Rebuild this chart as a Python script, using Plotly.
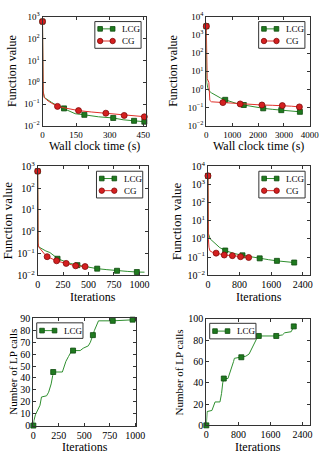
import plotly.graph_objects as go

W, H = 330, 461
FONT = "Liberation Serif"

# ------------------------------------------------------------------ data
# Panel 1: wall clock time (s) vs function value (problem 1)
p1_lcg_line_x = [0, 0.5, 3, 8, 20, 40, 65, 96, 125, 146, 187, 250, 316, 360, 409, 455, 462]
p1_lcg_line_y = [600, 2, 0.4, 0.2, 0.16, 0.12, 0.085, 0.063, 0.045, 0.036, 0.032, 0.026, 0.023, 0.019, 0.017, 0.0155, 0.0153]
p1_lcg_mark_x = [0, 96, 187, 316, 409, 455]
p1_lcg_mark_y = [600, 0.063, 0.032, 0.023, 0.017, 0.0155]
p1_cg_line_x = [0, 0.5, 3, 8, 20, 40, 67, 100, 130, 161, 220, 283, 320, 365, 410, 455, 462]
p1_cg_line_y = [600, 2, 0.35, 0.2, 0.15, 0.11, 0.078, 0.066, 0.057, 0.05, 0.043, 0.038, 0.034, 0.030, 0.028, 0.026, 0.026]
p1_cg_mark_x = [0, 67, 161, 283, 365, 455]
p1_cg_mark_y = [600, 0.078, 0.05, 0.038, 0.030, 0.026]

# Panel 2: wall clock time (s) vs function value (problem 2)
p2_lcg_line_x = [0, 3, 15, 50, 100, 200, 350, 550, 730, 1000, 1200, 1450, 1800, 2200, 2550, 2900, 3250, 3620]
p2_lcg_line_y = [3000, 10, 2.5, 1.3, 0.85, 0.65, 0.48, 0.34, 0.27, 0.2, 0.165, 0.14, 0.11, 0.092, 0.081, 0.073, 0.065, 0.059]
p2_lcg_mark_x = [0, 730, 1450, 2200, 2900, 3620]
p2_lcg_mark_y = [3000, 0.27, 0.14, 0.092, 0.073, 0.059]
p2_cg_line_x = [0, 3, 30, 97, 115, 135, 200, 400, 640, 1000, 1310, 1700, 2150, 2550, 2940, 3300, 3600]
p2_cg_line_y = [3000, 8, 4, 2.5, 0.6, 0.25, 0.21, 0.2, 0.19, 0.17, 0.16, 0.15, 0.14, 0.135, 0.13, 0.12, 0.11]
p2_cg_mark_x = [0, 640, 1310, 2150, 2940, 3600]
p2_cg_mark_y = [3000, 0.19, 0.16, 0.14, 0.13, 0.11]

# Panel 3: iterations vs function value (problem 1)
p3_lcg_line_x = [0, 1, 4, 10, 40, 80, 120, 150, 175, 195, 250, 320, 390, 480, 585, 680, 780, 880, 975, 1050]
p3_lcg_line_y = [600, 1.5, 0.3, 0.2, 0.16, 0.13, 0.11, 0.09, 0.07, 0.057, 0.045, 0.035, 0.029, 0.024, 0.020, 0.018, 0.016, 0.015, 0.014, 0.0138]
p3_lcg_mark_x = [0, 195, 390, 585, 780, 975]
p3_lcg_mark_y = [600, 0.057, 0.029, 0.020, 0.016, 0.014]
p3_cg_line_x = [0, 1, 4, 10, 40, 70, 93, 140, 186, 230, 280, 330, 373, 420, 466]
p3_cg_line_y = [600, 1.5, 0.3, 0.2, 0.13, 0.09, 0.071, 0.055, 0.046, 0.04, 0.035, 0.03, 0.027, 0.026, 0.025]
p3_cg_mark_x = [0, 93, 186, 280, 373, 466]
p3_cg_mark_y = [600, 0.071, 0.046, 0.035, 0.027, 0.025]

# Panel 4: iterations vs function value (problem 2)
p4_lcg_line_x = [0, 2, 10, 56, 178, 300, 436, 650, 873, 1100, 1309, 1530, 1745, 1960, 2182]
p4_lcg_line_y = [3000, 8, 2, 1.0, 0.55, 0.33, 0.23, 0.16, 0.125, 0.1, 0.085, 0.072, 0.062, 0.055, 0.05]
p4_lcg_mark_x = [0, 436, 873, 1309, 1745, 2182]
p4_lcg_mark_y = [3000, 0.23, 0.125, 0.085, 0.062, 0.05]
p4_cg_line_x = [0, 2, 10, 25, 50, 120, 206, 412, 618, 824, 1030]
p4_cg_line_y = [3000, 5, 1.0, 0.35, 0.22, 0.18, 0.165, 0.13, 0.12, 0.105, 0.095]
p4_cg_mark_x = [0, 206, 412, 618, 824, 1030]
p4_cg_mark_y = [3000, 0.165, 0.13, 0.12, 0.105, 0.095]

# Panel 5: iterations vs number of LP calls (problem 1)
p5_lcg_line_x = [0, 5, 20, 45, 65, 80, 130, 150, 175, 190, 195, 285, 300, 320, 345, 365, 390, 460, 490, 510, 540, 560, 575, 585, 600, 620, 640, 780, 975, 1010]
p5_lcg_line_y = [0, 4, 9, 13, 17, 24, 25, 28, 35, 42, 45, 45, 49, 54, 58, 61, 63, 63, 65, 66, 67, 70, 73, 76, 80, 84, 88, 88, 89, 89]
p5_lcg_mark_x = [0, 195, 390, 585, 780, 975]
p5_lcg_mark_y = [0, 45, 63, 76, 88, 89]

# Panel 6: iterations vs number of LP calls (problem 2)
p6_lcg_line_x = [0, 20, 140, 180, 218, 340, 380, 410, 436, 540, 580, 622, 680, 700, 873, 985, 1066, 1131, 1228, 1290, 1309, 1745, 1900, 1956, 2118, 2160, 2182]
p6_lcg_line_y = [0, 13, 14, 18, 22, 22, 30, 40, 44, 44, 48, 53, 60, 63, 64, 65, 67, 72, 78, 84, 84, 84, 85, 87, 88, 91, 93]
p6_lcg_mark_x = [0, 436, 873, 1309, 1745, 2182]
p6_lcg_mark_y = [0, 44, 64, 84, 84, 93]

# axis ticks / labels
log_tickvals_3 = [1e-2, 1e-1, 1e0, 1e1, 1e2, 1e3]
log_ticktext_3 = ["10<sup>−2</sup>", "10<sup>−1</sup>", "10<sup>0</sup>", "10<sup>1</sup>", "10<sup>2</sup>", "10<sup>3</sup>"]
log_tickvals_4 = [1e-2, 1e-1, 1e0, 1e1, 1e2, 1e3, 1e4]
log_ticktext_4 = log_ticktext_3 + ["10<sup>4</sup>"]
time_ticks_1 = [0, 150, 300, 450]
time_ticks_2 = [0, 1000, 2000, 3000, 4000]
iter_ticks_1 = [0, 250, 500, 750, 1000]
iter_ticks_2 = [0, 800, 1600, 2400]
lp_ticks_1 = list(range(0, 91, 10))
lp_ticks_2 = list(range(0, 101, 20))

# ------------------------------------------------------------------ style
G_LINE, G_FILL, G_EDGE = "#2f8f2f", "#1f7a1f", "#0d4a0d"
R_LINE, R_FILL, R_EDGE = "#e0302a", "#d42020", "#800a0a"
AX = "#333333"

# panel pixel boxes (left, right, top, bottom)
PANELS = {
    1: (41, 148.3, 10, 122.3),
    2: (211, 318.3, 10, 122.3),
    3: (36, 150, 164, 276),
    4: (212.7, 318.5, 164, 276),
    5: (31.5, 138.5, 320.5, 430.7),
    6: (211, 318.3, 321, 430.5),
}

fig = go.Figure()


def ax_name(i, kind):
    return kind if i == 1 else f"{kind}{i}"


def add_series(i, lx, ly, mx, my, lc, fc, ec, symbol):
    xa, ya = ax_name(i, "x"), ax_name(i, "y")
    fig.add_trace(go.Scatter(x=lx, y=ly, mode="lines", xaxis=xa, yaxis=ya,
                             line=dict(color=lc, width=1), showlegend=False, hoverinfo="skip"))
    fig.add_trace(go.Scatter(x=mx, y=my, mode="markers", xaxis=xa, yaxis=ya, cliponaxis=False,
                             marker=dict(symbol=symbol, size=5 if symbol == "square" else 6,
                                         color=fc, line=dict(color=ec, width=0.8)),
                             showlegend=False, hoverinfo="skip"))


add_series(1, p1_lcg_line_x, p1_lcg_line_y, p1_lcg_mark_x, p1_lcg_mark_y, G_LINE, G_FILL, G_EDGE, "square")
add_series(1, p1_cg_line_x, p1_cg_line_y, p1_cg_mark_x, p1_cg_mark_y, R_LINE, R_FILL, R_EDGE, "circle")
add_series(2, p2_lcg_line_x, p2_lcg_line_y, p2_lcg_mark_x, p2_lcg_mark_y, G_LINE, G_FILL, G_EDGE, "square")
add_series(2, p2_cg_line_x, p2_cg_line_y, p2_cg_mark_x, p2_cg_mark_y, R_LINE, R_FILL, R_EDGE, "circle")
add_series(3, p3_lcg_line_x, p3_lcg_line_y, p3_lcg_mark_x, p3_lcg_mark_y, G_LINE, G_FILL, G_EDGE, "square")
add_series(3, p3_cg_line_x, p3_cg_line_y, p3_cg_mark_x, p3_cg_mark_y, R_LINE, R_FILL, R_EDGE, "circle")
add_series(4, p4_lcg_line_x, p4_lcg_line_y, p4_lcg_mark_x, p4_lcg_mark_y, G_LINE, G_FILL, G_EDGE, "square")
add_series(4, p4_cg_line_x, p4_cg_line_y, p4_cg_mark_x, p4_cg_mark_y, R_LINE, R_FILL, R_EDGE, "circle")
add_series(5, p5_lcg_line_x, p5_lcg_line_y, p5_lcg_mark_x, p5_lcg_mark_y, G_LINE, G_FILL, G_EDGE, "square")
add_series(6, p6_lcg_line_x, p6_lcg_line_y, p6_lcg_mark_x, p6_lcg_mark_y, G_LINE, G_FILL, G_EDGE, "square")

layout = dict(width=W, height=H, margin=dict(l=0, r=0, t=0, b=0, pad=0),
              paper_bgcolor="white", plot_bgcolor="white", showlegend=False,
              font=dict(family=FONT, size=10, color="black"))

AXIS_SPECS = {
    1: dict(x=dict(range=[0, 462], tickvals=time_ticks_1), y=dict(type="log", range=[-2, 3], tickvals=log_tickvals_3, ticktext=log_ticktext_3), fs=9),
    2: dict(x=dict(range=[0, 4000], tickvals=time_ticks_2), y=dict(type="log", range=[-2, 4], tickvals=log_tickvals_4, ticktext=log_ticktext_4), fs=9),
    3: dict(x=dict(range=[0, 1080], tickvals=iter_ticks_1), y=dict(type="log", range=[-2, 3], tickvals=log_tickvals_3, ticktext=log_ticktext_3), fs=10),
    4: dict(x=dict(range=[0, 2580], tickvals=iter_ticks_2), y=dict(type="log", range=[-2, 4], tickvals=log_tickvals_4, ticktext=log_ticktext_4), fs=10),
    5: dict(x=dict(range=[0, 1013], tickvals=iter_ticks_1), y=dict(range=[0, 90], tickvals=lp_ticks_1), fs=10),
    6: dict(x=dict(range=[0, 2580], tickvals=iter_ticks_2), y=dict(range=[0, 100], tickvals=lp_ticks_2), fs=10),
}

for i, (l, r, t, b) in PANELS.items():
    spec = AXIS_SPECS[i]
    common = dict(showline=True, linecolor=AX, linewidth=1, mirror="ticks", ticks="inside",
                  ticklen=3, tickcolor=AX, tickwidth=1, showgrid=False, zeroline=False,
                  tickfont=dict(family=FONT, size=spec["fs"], color="black"))
    xa = dict(common, domain=[l / W, r / W], anchor=ax_name(i, "y"), **spec["x"])
    ya = dict(common, domain=[1 - b / H, 1 - t / H], anchor=ax_name(i, "x"), **spec["y"])
    layout["xaxis" if i == 1 else f"xaxis{i}"] = xa
    layout["yaxis" if i == 1 else f"yaxis{i}"] = ya

fig.update_layout(**layout)

# ------------------------------------------------------------------ titles
TITLES = {
    1: ("Wall clock time (s)", 12, 143.5, "Function value", 12, 10),
    2: ("Wall clock time (s)", 12, 143.5, "Function value", 12, 177),
    3: ("Iterations", 12, 298, "Function value", 13, 5),
    4: ("Iterations", 12, 298, "Function value", 13, 180),
    5: ("Iterations", 12, 452.5, "Number of LP calls", 11, 10),
    6: ("Iterations", 12, 452.5, "Number of LP calls", 11, 183),
}
for i, (xt, xfs, xy, yt, yfs, yx) in TITLES.items():
    l, r, t, b = PANELS[i]
    fig.add_annotation(text=xt, xref="paper", yref="paper", x=(l + r) / 2 / W, y=1 - xy / H,
                       xanchor="center", yanchor="middle", showarrow=False,
                       font=dict(family=FONT, size=xfs, color="black"))
    fig.add_annotation(text=yt, xref="paper", yref="paper", x=yx / W, y=1 - (t + b) / 2 / H,
                       xanchor="center", yanchor="middle", showarrow=False, textangle=-90,
                       font=dict(family=FONT, size=yfs, color="black"))

# ------------------------------------------------------------------ legends (drawn as boxes)
LEG_FS = 9


def legend_box(x0, y0, w, h, rows):
    fig.add_shape(type="rect", xref="paper", yref="paper", x0=x0 / W, x1=(x0 + w) / W,
                  y0=1 - y0 / H, y1=1 - (y0 + h) / H, line=dict(color=AX, width=1),
                  fillcolor="white", layer="above")
    for dy, name, lc, fc, ec, sym in rows:
        yy = y0 + dy
        ma, mb = x0 + 5.5, x0 + 18.5
        fig.add_shape(type="line", xref="paper", yref="paper", x0=ma / W, x1=mb / W,
                      y0=1 - yy / H, y1=1 - yy / H, line=dict(color=lc, width=1), layer="above")
        for mx in (ma, mb):
            s = 2.4 if sym == "square" else 2.8
            fig.add_shape(type="rect" if sym == "square" else "circle", xref="paper", yref="paper",
                          x0=(mx - s) / W, x1=(mx + s) / W, y0=1 - (yy - s) / H, y1=1 - (yy + s) / H,
                          line=dict(color=ec, width=0.8), fillcolor=fc, layer="above")
        fig.add_annotation(text=name, xref="paper", yref="paper", x=(x0 + 26) / W, y=1 - yy / H,
                           xanchor="left", yanchor="middle", showarrow=False,
                           font=dict(family=FONT, size=LEG_FS, color="black"))


two_rows = [(7.5, "LCG", G_LINE, G_FILL, G_EDGE, "square"), (20, "CG", R_LINE, R_FILL, R_EDGE, "circle")]
one_row = [(8, "LCG", G_LINE, G_FILL, G_EDGE, "square")]
for i in (1, 2, 3, 4):
    l, r, t, b = PANELS[i]
    legend_box(r - 5 - 48, t + 5, 48, 27.5, two_rows)
for i in (5, 6):
    l, r, t, b = PANELS[i]
    legend_box(l + 3.5, t + 4.5, 48, 16, one_row)

fig.write_html("out.html")
